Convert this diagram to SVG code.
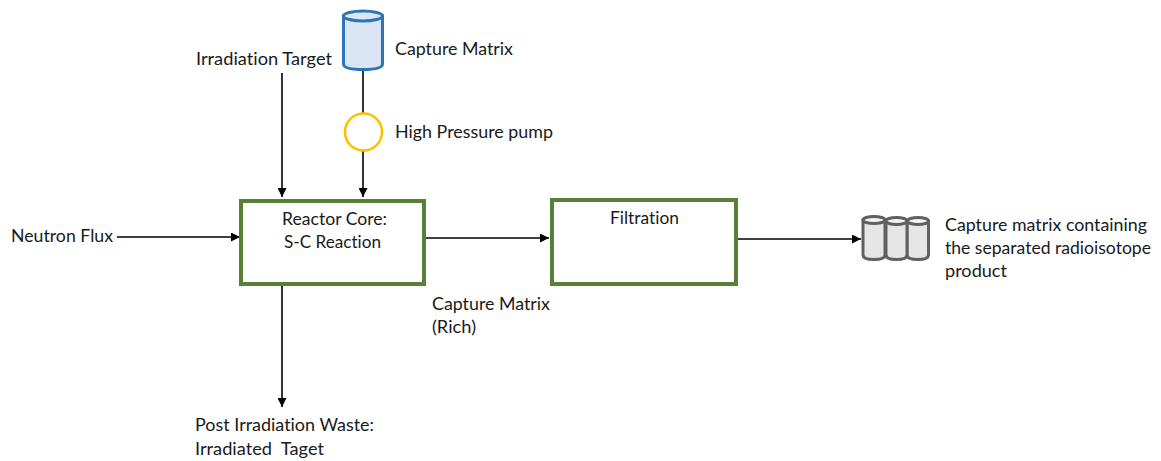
<svg xmlns="http://www.w3.org/2000/svg" width="1161" height="461" viewBox="0 0 1161 461">
<style>
text{font-family:"Lato","Liberation Sans",sans-serif;font-size:17.500px;fill:#1a1a1a;font-variant-ligatures:none;white-space:pre}
.box{fill:#fff;stroke:#558035;stroke-width:4}
.ln{fill:none;stroke:#000;stroke-width:1.600}
.arr{marker-end:url(#a)}
.can{fill:#e6e6e6;stroke:#606060;stroke-width:3}
.top{fill:#f4f4f4;stroke:#606060;stroke-width:3}
</style>
<defs><marker id="a" markerUnits="userSpaceOnUse" markerWidth="10" markerHeight="9" refX="9" refY="4.500" orient="auto"><path d="M0 0L9 4.500L0 9Z" fill="#000"/></marker></defs>
<rect width="1161" height="461" fill="#fff"/>
<g id="connectors">
<path class="ln arr" d="M282 73V197"/>
<path class="ln" d="M363 70V113"/>
<path class="ln arr" d="M363 151V197"/>
<path class="ln arr" d="M117 237H240"/>
<path class="ln arr" d="M425 238H549"/>
<path class="ln arr" d="M738 239H861"/>
<path class="ln arr" d="M282 285V407"/>
</g>
<g id="capture-matrix">
<path d="M343.500 16V64Q343.500 69.500 363 69.500Q382.500 69.500 382.500 64V16Z" fill="#dae6f3" stroke="#2e75b6" stroke-width="3"/>
<ellipse cx="363" cy="16" rx="19.500" ry="5" fill="#dae6f3" stroke="#2e75b6" stroke-width="3"/>
<text x="395" y="55" textLength="118" lengthAdjust="spacingAndGlyphs">Capture Matrix</text>
</g>
<g id="pump">
<circle cx="363.500" cy="132" r="18.500" fill="#fff" stroke="#ffc000" stroke-width="2.500"/>
<text x="395" y="138" textLength="158" lengthAdjust="spacingAndGlyphs">High Pressure pump</text>
</g>
<g id="irradiation-target"><text x="196" y="65" textLength="136" lengthAdjust="spacingAndGlyphs">Irradiation Target</text></g>
<g id="neutron-flux"><text x="11" y="242" textLength="102" lengthAdjust="spacingAndGlyphs">Neutron Flux</text></g>
<g id="reactor-core">
<rect class="box" x="241" y="201" width="183" height="83"/>
<text x="282" y="225" textLength="105" lengthAdjust="spacingAndGlyphs">Reactor Core:</text>
<text x="284" y="248" textLength="97" lengthAdjust="spacingAndGlyphs">S-C Reaction</text>
</g>
<g id="filtration">
<rect class="box" x="552" y="200" width="184" height="84"/>
<text x="610" y="224" textLength="69" lengthAdjust="spacingAndGlyphs">Filtration</text>
</g>
<g id="rich"><text x="432" y="310" textLength="118" lengthAdjust="spacingAndGlyphs">Capture Matrix</text><text x="432" y="333" textLength="44" lengthAdjust="spacingAndGlyphs">(Rich)</text></g>
<g id="waste"><text x="195" y="431" textLength="179" lengthAdjust="spacingAndGlyphs">Post Irradiation Waste:</text><text x="195" y="455" textLength="129" lengthAdjust="spacingAndGlyphs">Irradiated  Taget</text></g>
<g id="product-cans">
<g id="can-3"><path class="can" d="M907 221V255Q907 259.500 918 259.500Q928.500 259.500 928.500 255V221Z"/><ellipse class="top" cx="918" cy="221" rx="10.500" ry="3.500"/></g>
<g id="can-2"><path class="can" d="M886 221V255Q886 259.500 896.500 259.500Q907 259.500 907 255V221Z"/><ellipse class="top" cx="896.500" cy="221" rx="10.500" ry="3.500"/></g>
<g id="can-1"><path class="can" d="M863 220V255Q863 259.500 874 259.500Q885 259.500 885 255V220Z"/><ellipse class="top" cx="874" cy="220" rx="11" ry="3.500"/></g>
</g>
<g id="product-label">
<text x="945" y="231" textLength="202" lengthAdjust="spacingAndGlyphs">Capture matrix containing</text>
<text x="945" y="254" textLength="206" lengthAdjust="spacingAndGlyphs">the separated radioisotope</text>
<text x="945" y="277" textLength="62" lengthAdjust="spacingAndGlyphs">product</text>
</g>
</svg>
